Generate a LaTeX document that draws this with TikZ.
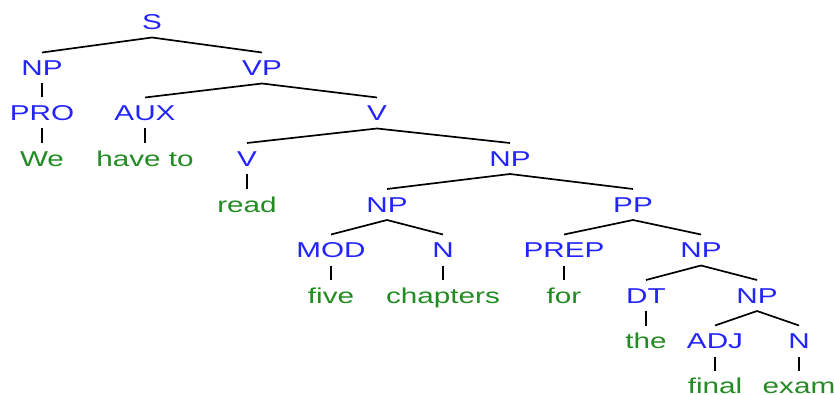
\documentclass[tikz,border=0pt]{standalone}
\usepackage{fontspec}
\setmainfont[FakeStretch=1.38]{Liberation Sans}
\definecolor{catblue}{RGB}{35,35,255}
\definecolor{wordgreen}{RGB}{34,139,34}
\begin{document}
\begin{tikzpicture}[x=1pt,y=-1pt,
  lab/.style={inner xsep=0pt,inner ysep=7.6pt,text height=15.4pt,text depth=0pt,
    font=\fontsize{21.5}{22}\selectfont},
  cat/.style={lab,text=catblue},
  word/.style={lab,text=wordgreen},
  edge/.style={draw=black,line width=1.7pt}]
\useasboundingbox (0,0) rectangle (834,395);
% level rows
\node[cat] (S) at (152,22) {S};
\node[cat] (NP1) at (42,68) {NP};
\node[cat] (VP) at (262,68) {VP};
\node[cat] (PRO) at (42,113) {PRO};
\node[cat] (AUX) at (145,113) {AUX};
\node[cat] (V1) at (377,113) {V};
\node[word] (we) at (42,158.5) {We};
\node[word] (haveto) at (145,158.5) {have to};
\node[cat] (V2) at (247,158.5) {V};
\node[cat] (NP2) at (510,158.5) {NP};
\node[word] (read) at (247,204.5) {read};
\node[cat] (NP3) at (387,204.5) {NP};
\node[cat] (PP) at (633,204.5) {PP};
\node[cat] (MOD) at (331,250) {MOD};
\node[cat] (N1) at (443,250) {N};
\node[cat] (PREP) at (564,250) {PREP};
\node[cat] (NP4) at (701,250) {NP};
\node[word] (five) at (331,295.5) {five};
\node[word] (chapters) at (443,295.5) {chapters};
\node[word] (for) at (564,295.5) {for};
\node[cat] (DT) at (646,295.5) {DT};
\node[cat] (NP5) at (757,295.5) {NP};
\node[word] (the) at (646,341) {the};
\node[cat] (ADJ) at (715,341) {ADJ};
\node[cat] (N2) at (799,341) {N};
\node[word] (final) at (715,386) {final};
\node[word] (exam) at (799,386) {exam};
% edges
\foreach \p/\c in {S/NP1,S/VP,NP1/PRO,PRO/we,VP/AUX,VP/V1,AUX/haveto,
  V1/V2,V1/NP2,V2/read,NP2/NP3,NP2/PP,NP3/MOD,NP3/N1,MOD/five,N1/chapters,
  PP/PREP,PP/NP4,PREP/for,NP4/DT,NP4/NP5,DT/the,NP5/ADJ,NP5/N2,ADJ/final,N2/exam}
  \draw[edge] (\p.south) -- (\c.north);
\end{tikzpicture}
\end{document}
